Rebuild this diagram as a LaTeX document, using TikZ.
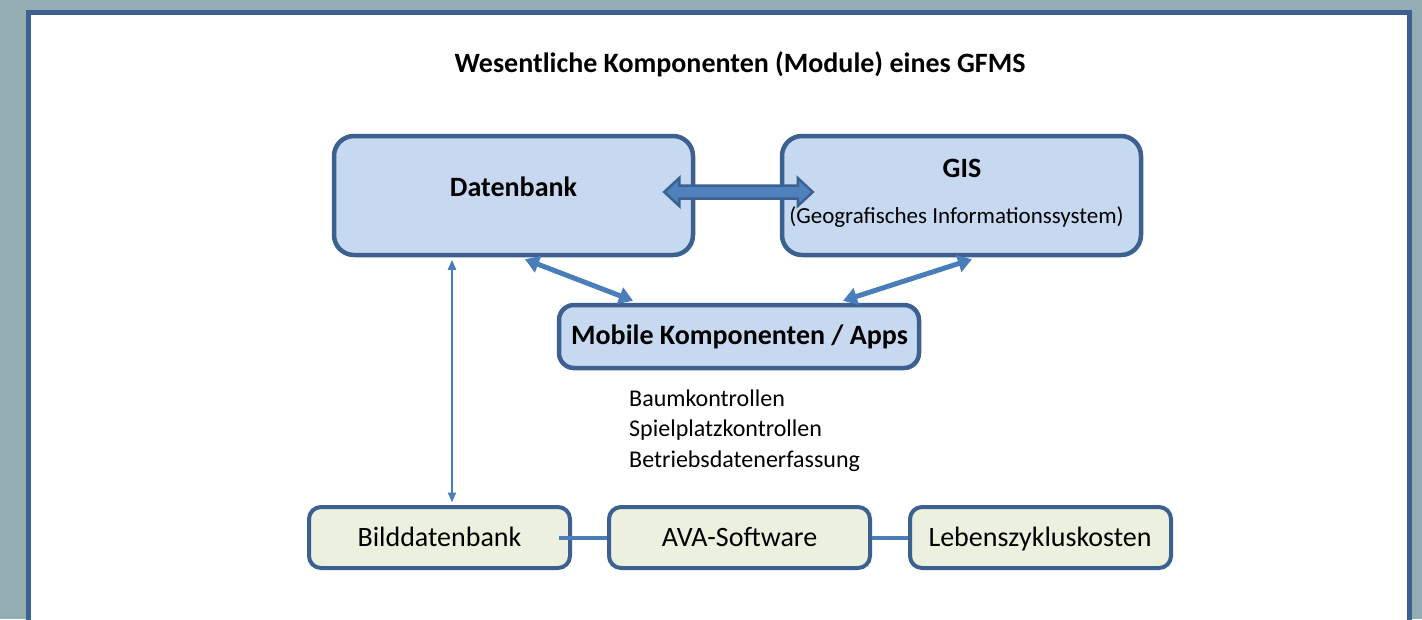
\documentclass[tikz,border=0pt]{standalone}
\usepackage{fontspec}
\setmainfont{Carlito}
\usetikzlibrary{arrows.meta,calc}
\definecolor{bgc}{HTML}{93ADB2}
\definecolor{bordc}{HTML}{3C6190}
\definecolor{topfill}{HTML}{C6D9F1}
\definecolor{botfill}{HTML}{EBF1DE}
\definecolor{conc}{HTML}{4A7EBB}
\definecolor{arrfill}{HTML}{4F81BD}
\tikzset{
  bigbox/.style={draw=bordc, line width=4.5pt, fill=topfill, rounded corners=20pt, minimum width=359pt, minimum height=119pt, inner sep=0pt},
  midbox/.style={draw=bordc, line width=4.5pt, fill=topfill, rounded corners=15pt, minimum width=360pt, minimum height=63pt, inner sep=0pt},
  smallbox/.style={draw=bordc, line width=4pt, fill=botfill, rounded corners=12pt, minimum width=261pt, minimum height=61pt, inner sep=0pt},
  bigfont/.style={font=\fontsize{28}{34}\selectfont, anchor=base, inner sep=0pt},
  boldbig/.style={font=\fontsize{28}{34}\selectfont\bfseries, anchor=base, inner sep=0pt},
  thickcon/.style={draw=conc, line width=5pt, {Triangle[length=14pt,width=17pt]}-{Triangle[length=14pt,width=17pt]}},
  thincon/.style={draw=conc, line width=2pt, {Triangle[length=10pt,width=8pt]}-{Triangle[length=10pt,width=8pt]}},
  plaincon/.style={draw=conc, line width=4pt},
  dblarrow/.style={fill=arrfill, draw=bordc, line width=2.5pt, line join=miter},
}
\begin{document}
\begin{tikzpicture}[x=1pt,y=-1pt]
\useasboundingbox (0,0) rectangle (1422,619);
\fill[bgc] (0,0) rectangle (1422,619);
\clip (0,0) rectangle (1422,619);
\draw[bordc, line width=5pt, fill=white] (28.5,12) rectangle (1409.5,660);

\node[boldbig] (title) at (740,72) {Wesentliche Komponenten (Module) eines GFMS};

\node[bigbox] (db) at (513.5,195.5) {};
\node[boldbig] (dbtext) at (513.5,196) {Datenbank};
\node[bigbox] (gis) at (961.5,195.5) {};
\node[boldbig] (gistext) at (962,177) {GIS};
\node[font=\fontsize{23}{28}\selectfont, anchor=base, inner sep=0pt] (gissub) at (956.5,223) {(Geografisches Informationssystem)};

\node[midbox] (mob) at (739,336.5) {};
\node[boldbig] (mobtext) at (739.5,344.5) {Mobile Komponenten / Apps};

\node[font=\fontsize{24}{30.5}\selectfont, align=left, anchor=west, inner sep=0pt] (list) at (629,430.5) {Baumkontrollen\\Spielplatzkontrollen\\Betriebsdatenerfassung};

\node[smallbox] (bild) at (439.5,537.5) {};
\node[bigfont] (bildtext) at (439.5,546) {Bilddatenbank};
\node[smallbox] (ava) at (739.5,537.5) {};
\node[bigfont] (avatext) at (739.5,546) {AVA-Software};
\node[smallbox] (leben) at (1040.5,537.5) {};
\node[bigfont] (lebentext) at (1040,546) {Lebenszykluskosten};

% connectors
\draw[plaincon] ($(bild.east)+(-13,0)$) -- (ava.west);
\draw[plaincon] (ava.east) -- (leben.west);
\draw[thincon] ($(db.south)+(-61.5,2.5)$) -- ($(bild.north)+(12.5,-2.5)$);
\draw[thickcon] ($(db.south)+(11.5,2)$) -- ($(mob.north)+(-106,-2)$);
\draw[thickcon] ($(gis.south)+(10.5,2)$) -- ($(mob.north)+(104,-2)$);

\coordinate (L) at ($(db.east)+(-31,-3.5)$);
\coordinate (R) at ($(gis.west)+(33,-3.5)$);
\path[dblarrow] (L) -- ($(L)+(15,-14)$) -- ($(L)+(15,-6.5)$) -- ($(R)+(-15,-6.5)$) -- ($(R)+(-15,-14)$) -- (R) -- ($(R)+(-15,14)$) -- ($(R)+(-15,6.5)$) -- ($(L)+(15,6.5)$) -- ($(L)+(15,14)$) -- cycle;
\end{tikzpicture}
\end{document}
